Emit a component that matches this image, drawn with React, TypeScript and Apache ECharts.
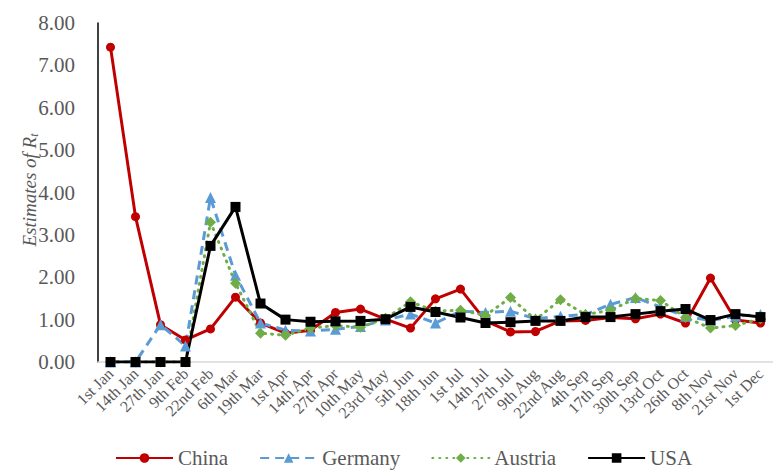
import React, { useEffect, useRef } from "react";
import * as echarts from "echarts";

const categories = ["1st Jan","14th Jan","27th Jan","9th Feb","22nd Feb","6th Mar","19th Mar","1st Apr","14th Apr","27th Apr","10th May","23rd May","5th Jun","18th Jun","1st Jul","14th Jul","27th Jul","9th Aug","22nd Aug","4th Sep","17th Sep","30th Sep","13rd Oct","26th Oct","8th Nov","21st Nov","1st Dec"];

const china = [7.43,3.43,0.88,0.52,0.78,1.53,0.92,0.68,0.75,1.17,1.25,1.01,0.80,1.49,1.72,0.97,0.71,0.72,0.97,0.98,1.05,1.02,1.13,0.92,1.98,0.99,0.92];
const germany = [0,0,0.88,0.38,3.88,2.05,0.92,0.75,0.73,0.77,0.84,0.99,1.13,0.92,1.20,1.17,1.20,1.02,1.08,1.12,1.36,1.52,1.30,1.08,0.98,1.08,1.12];
const austria = [0,0,0,0,3.30,1.86,0.68,0.63,0.80,0.86,0.82,1.03,1.42,1.20,1.22,1.10,1.52,1.00,1.47,1.12,1.22,1.50,1.45,1.05,0.80,0.86,1.02];
const usa = [0,0,0,0,2.74,3.66,1.38,1.00,0.95,0.96,0.97,1.01,1.30,1.18,1.05,0.92,0.94,0.97,0.97,1.06,1.06,1.13,1.20,1.25,0.99,1.13,1.06];

const serif = "Liberation Serif";

export default function App() {
  const ref = useRef<HTMLDivElement>(null);
  useEffect(() => {
    if (!ref.current) return;
    const chart = echarts.init(ref.current, null, { renderer: "svg" });
    chart.setOption({
      animation: false,
      backgroundColor: "#ffffff",
      textStyle: { fontFamily: serif },
      grid: { left: 98, right: -11, top: 23, bottom: 109, containLabel: false },
      legend: {
        top: 447,
        left: 115,
        padding: 0,
        itemWidth: 57,
        itemHeight: 12,
        itemGap: 31,
        textStyle: { fontSize: 21, lineHeight: 22, color: "#595959", fontFamily: serif },
        data: ["China", "Germany", "Austria", "USA"],
      },
      xAxis: {
        type: "category",
        data: categories,
        boundaryGap: true,
        axisLine: { show: true, lineStyle: { color: "#d9d9d9", width: 1.5 } },
        axisTick: { show: false },
        axisLabel: { rotate: 45, interval: 0, fontSize: 16, color: "#595959", fontFamily: serif, margin: 9 },
      },
      yAxis: {
        type: "value",
        min: 0,
        max: 8,
        interval: 1,
        splitLine: { show: false },
        axisLine: { show: true, lineStyle: { color: "#000000", width: 1.5 } },
        axisTick: { show: false },
        axisLabel: { formatter: (v: number) => v.toFixed(2), fontSize: 21, color: "#595959", fontFamily: serif, margin: 23 },
      },
      graphic: [
        {
          type: "text",
          x: 29,
          y: 190,
          rotation: Math.PI / 2,
          style: {
            text: "{a|Estimates of R}{b|t}",
            align: "center",
            verticalAlign: "middle",
            fill: "#595959",
            rich: {
              a: { fontSize: 19, fontStyle: "italic", fontFamily: serif, fill: "#595959" },
              b: { fontSize: 12, fontStyle: "italic", fontFamily: serif, fill: "#595959", verticalAlign: "bottom", padding: [9, 0, 0, 0] },
            },
          },
        },
      ],
      series: [
        {
          name: "China",
          type: "line",
          data: china,
          symbol: "circle",
          symbolSize: 9,
          color: "#C00000",
          lineStyle: { color: "#C00000", width: 3 },
          itemStyle: { color: "#C00000" },
        },
        {
          name: "Germany",
          type: "line",
          data: germany,
          symbol: "triangle",
          symbolSize: 11,
          color: "#5B9BD5",
          lineStyle: { color: "#5B9BD5", width: 3, type: [9, 6] },
          itemStyle: { color: "#5B9BD5" },
        },
        {
          name: "Austria",
          type: "line",
          data: austria,
          symbol: "diamond",
          symbolSize: 11,
          color: "#70AD47",
          lineStyle: { color: "#70AD47", width: 3, type: [1, 6], cap: "round" },
          itemStyle: { color: "#70AD47" },
        },
        {
          name: "USA",
          type: "line",
          data: usa,
          symbol: "rect",
          symbolSize: 10,
          color: "#000000",
          lineStyle: { color: "#000000", width: 3 },
          itemStyle: { color: "#000000" },
        },
      ],
    });
    return () => chart.dispose();
  }, []);
  return <div ref={ref} style={{ position: "fixed", left: 0, top: 0, width: 773, height: 471 }} />;
}
